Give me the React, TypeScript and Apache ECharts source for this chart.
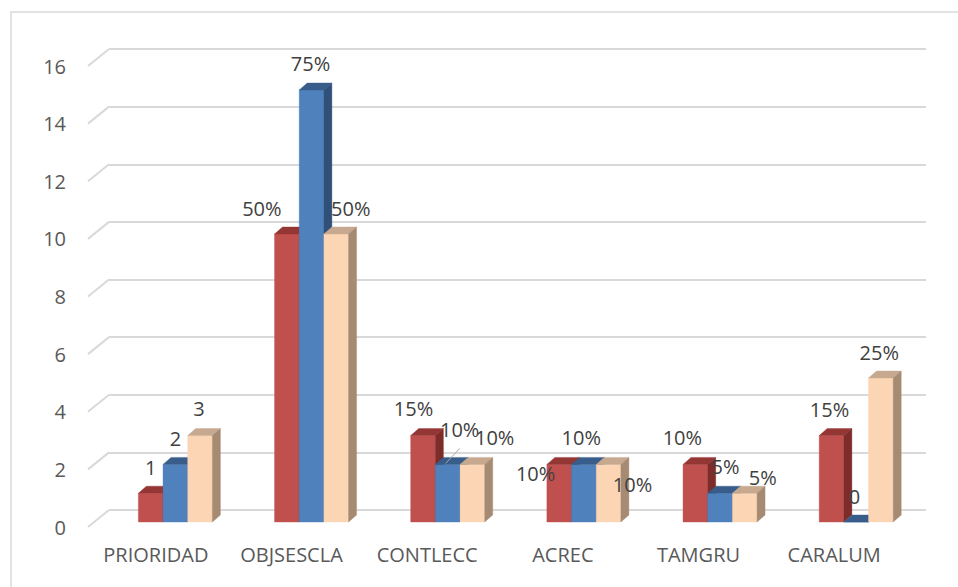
import React, { useEffect, useRef } from "react";
import * as echarts from "echarts";

const CATEGORIES = ["PRIORIDAD", "OBJSESCLA", "CONTLECC", "ACREC", "TAMGRU", "CARALUM"];
const SERIES_RED = [1, 10, 3, 2, 2, 3];
const SERIES_BLUE = [2, 15, 2, 2, 1, 0];
const SERIES_PEACH = [3, 10, 2, 2, 1, 5];
const LABELS_RED = ["1", "50%", "15%", "10%", "10%", "15%"];
const LABELS_BLUE = ["2", "75%", "10%", "10%", "5%", "0"];
const LABELS_PEACH = ["3", "50%", "10%", "10%", "5%", "25%"];
const Y_TICKS = [0, 2, 4, 6, 8, 10, 12, 14, 16];

// layout: label offsets from the bar's front-top centre
const OFFSETS_RED = [[0, -26], [-25, -26], [-9.5, -27], [-23.6, 9], [-13, -27], [-2, -26]];
const OFFSETS_BLUE = [[0, -25.5], [-1, -27], [12, -35], [-2.6, -27], [5.4, -27], [-1.7, -26]];
const OFFSETS_PEACH = [[-1, -27], [14.5, -26], [22.3, -27], [24, 20], [18, -16], [-1.6, -26]];
const LEADER_BLUE = [false, false, true, false, false, false];

const BAR_FRAC = 0.1812;
const DX = 8;
const DY = -7;
const WALL_DX = 21;
const WALL_DY = -17;
const FONT = '"Open Sans", "Noto Sans", sans-serif';

const COLORS = [
  { front: "#C0504D", top: "#943634", side: "#7E2C2A" },
  { front: "#4F81BD", top: "#385D8A", side: "#30507A" },
  { front: "#FCD5B5", top: "#C6A98F", side: "#A68A72" },
];

function barSeries(name: string, values: number[], sIdx: number) {
  const c = COLORS[sIdx];
  return {
    type: "custom",
    name,
    xAxisIndex: 2,
    yAxisIndex: 2,
    z: 3,
    data: values.map((v, i) => [i, v]),
    renderItem: (params: any, api: any) => {
      const cat = api.value(0);
      const v = api.value(1);
      const top = api.coord([cat, v]);
      const base = api.coord([cat, 0]);
      const band = api.size([1, 0])[0];
      const w = band * BAR_FRAC;
      const x = top[0] - 1.5 * w + sIdx * w;
      const yT = top[1];
      const yB = base[1];
      return {
        type: "group",
        children: [
          {
            type: "rect",
            shape: { x, y: yT, width: w, height: yB - yT },
            style: { fill: c.front, stroke: c.front, lineWidth: 0.4 },
          },
          {
            type: "polygon",
            shape: { points: [[x, yT], [x + DX, yT + DY], [x + w + DX, yT + DY], [x + w, yT]] },
            style: { fill: c.top, stroke: c.top, lineWidth: 0.4 },
          },
          {
            type: "polygon",
            shape: { points: [[x + w, yT], [x + w + DX, yT + DY], [x + w + DX, yB + DY], [x + w, yB]] },
            style: { fill: c.side, stroke: c.side, lineWidth: 0.4 },
          },
        ],
      };
    },
  };
}

export default function App() {
  const ref = useRef<HTMLDivElement>(null);
  useEffect(() => {
    if (!ref.current) return;
    const chart = echarts.init(ref.current, undefined, { renderer: "svg" });
    const seriesValues = [SERIES_RED, SERIES_BLUE, SERIES_PEACH];
    const seriesLabels = [LABELS_RED, LABELS_BLUE, LABELS_PEACH];
    const seriesOffsets = [OFFSETS_RED, OFFSETS_BLUE, OFFSETS_PEACH];
    const labelData: any[] = [];
    seriesValues.forEach((vals, s) => {
      vals.forEach((v, i) => labelData.push([i, v, s]));
    });

    chart.setOption({
      animation: false,
      backgroundColor: "#ffffff",
      graphic: [
        {
          type: "rect",
          shape: { x: 11, y: 12, width: 1000, height: 1000 },
          style: { fill: "none", stroke: "#d9d9d9", lineWidth: 1.5 },
          silent: true,
        },
      ],
      grid: [
        { left: 109, right: 32, top: 49, bottom: 77 },
        { left: 88, right: 56, top: 66, bottom: 60 },
        { left: 107.3, right: 33.7, top: 61.2, bottom: 65 },
      ],
      xAxis: [
        { gridIndex: 0, type: "category", data: CATEGORIES, show: false },
        {
          gridIndex: 1,
          type: "category",
          data: CATEGORIES,
          axisLine: { show: false },
          axisTick: { show: false },
          axisLabel: { interval: 0, color: "#595959", fontSize: 20, fontFamily: FONT, margin: 17 },
        },
        { gridIndex: 2, type: "category", data: CATEGORIES, show: false },
      ],
      yAxis: [
        {
          gridIndex: 0,
          type: "value",
          min: 0,
          max: 16,
          interval: 2,
          axisLabel: { show: false },
          axisLine: { show: false },
          axisTick: { show: false },
          splitLine: { show: true, lineStyle: { color: "#d9d9d9", width: 2 } },
        },
        {
          gridIndex: 1,
          type: "value",
          min: 0,
          max: 16,
          interval: 2,
          axisLine: { show: false },
          axisTick: { show: false },
          splitLine: { show: false },
          axisLabel: { color: "#595959", fontSize: 20, fontFamily: FONT, margin: 22 },
        },
        {
          gridIndex: 2,
          type: "value",
          min: 0,
          max: 16,
          interval: 2,
          show: false,
          splitLine: { show: false },
        },
      ],
      series: [
        {
          type: "custom",
          name: "wall",
          xAxisIndex: 1,
          yAxisIndex: 1,
          z: 1,
          silent: true,
          data: Y_TICKS.map((t) => [0, t]),
          renderItem: (params: any, api: any) => {
            const p = api.coord([0, api.value(1)]);
            const band = api.size([1, 0])[0];
            const x0 = p[0] - band / 2;
            return {
              type: "line",
              shape: { x1: x0, y1: p[1], x2: x0 + WALL_DX, y2: p[1] + WALL_DY },
              style: { stroke: "#d9d9d9", lineWidth: 2 },
            };
          },
        },
        barSeries("Serie 1", SERIES_RED, 0),
        barSeries("Serie 2", SERIES_BLUE, 1),
        barSeries("Serie 3", SERIES_PEACH, 2),
        {
          type: "custom",
          name: "labels",
          xAxisIndex: 2,
          yAxisIndex: 2,
          z: 5,
          silent: true,
          data: labelData,
          renderItem: (params: any, api: any) => {
            const cat = api.value(0);
            const v = api.value(1);
            const s = api.value(2);
            const top = api.coord([cat, v]);
            const band = api.size([1, 0])[0];
            const w = band * BAR_FRAC;
            const cx = top[0] - 1.5 * w + s * w + w / 2;
            const yT = top[1];
            const off = seriesOffsets[s][cat];
            const children: any[] = [
              {
                type: "text",
                style: {
                  text: seriesLabels[s][cat],
                  x: cx + off[0],
                  y: yT + off[1],
                  fill: "#404040",
                  font: `20px ${FONT}`,
                  align: "center",
                  verticalAlign: "middle",
                },
              },
            ];
            if (s === 1 && LEADER_BLUE[cat]) {
              children.push({
                type: "line",
                shape: { x1: cx - 2, y1: yT - 1, x2: cx + 12, y2: yT - 16 },
                style: { stroke: "#a6a6a6", lineWidth: 1 },
              });
            }
            return { type: "group", children };
          },
        },
      ],
    });
    return () => chart.dispose();
  }, []);
  return (
    <div
      ref={ref}
      style={{ position: "fixed", left: 0, top: 0, width: 958, height: 587, background: "#fff" }}
    />
  );
}
